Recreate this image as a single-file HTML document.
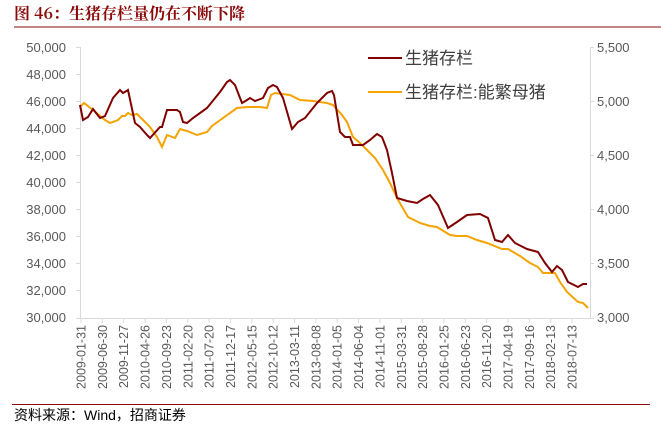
<!DOCTYPE html>
<html><head><meta charset="utf-8"><style>
body{margin:0;width:661px;height:430px;background:#fff;overflow:hidden;font-family:"Liberation Sans","Noto Sans CJK SC",sans-serif}
</style></head><body>
<svg width="661" height="430" xmlns="http://www.w3.org/2000/svg" font-family="Liberation Sans, Noto Sans CJK SC, sans-serif">
<text x="14" y="19" font-size="16" font-weight="bold" fill="#8b0a0a" font-family="Noto Serif CJK SC, Liberation Serif, serif">图 46：生猪存栏量仍在不断下降</text>
<line x1="14" y1="27" x2="661" y2="27" stroke="#8b0a0a" stroke-width="1"/>
<g font-size="13" fill="#595959" text-anchor="end">
<text x="66" y="52">50,000</text><text x="66" y="79">48,000</text><text x="66" y="106">46,000</text><text x="66" y="133">44,000</text><text x="66" y="160">42,000</text><text x="66" y="187">40,000</text><text x="66" y="214">38,000</text><text x="66" y="241">36,000</text><text x="66" y="268">34,000</text><text x="66" y="295">32,000</text><text x="66" y="322">30,000</text>
</g>
<g font-size="13" fill="#595959">
<text x="597" y="52">5,500</text><text x="597" y="106">5,000</text><text x="597" y="160">4,500</text><text x="597" y="214">4,000</text><text x="597" y="268">3,500</text><text x="597" y="322">3,000</text>
</g>
<g stroke="#d9d9d9" stroke-width="1">
<line x1="80.5" y1="47" x2="80.5" y2="318"/><line x1="590.5" y1="47" x2="590.5" y2="318"/>
<line x1="76" y1="318.5" x2="590" y2="318.5"/>
<path d="M76 47.5h4M76 74.5h4M76 101.5h4M76 128.5h4M76 155.5h4M76 182.5h4M76 209.5h4M76 236.5h4M76 263.5h4M76 290.5h4M590 47.5h4M590 101.5h4M590 155.5h4M590 209.5h4M590 263.5h4M590 318.5h4"/>
</g>
<g id="ticks" stroke="#d9d9d9"></g>
<g id="xl" font-size="12.5" fill="#595959"></g>
<polyline fill="none" stroke="#f5a300" stroke-width="2" points="81,106 84,103 93,110 105,120 110,123 118,120 122,116 125,116 128,113 132,115 137,114 143,120 150,127 157,137 162,147 167,135 175,138 180,129 187,131 197,135 207,132 212,126 223,118 237,108 247,107 260,107 267,108 271,95 275,93 290,95 300,100 313,101 327,103 333,105 342,115 347,122 353,137 360,143 370,153 375,158 383,170 390,183 397,198 408,217 420,223 430,226 437,227 450,235 457,236 467,236 477,240 487,243 502,249 508,249 520,256 530,263 538,267 543,273 555,273 560,282 567,292 578,302 583,303 588,308"/>
<polyline fill="none" stroke="#800000" stroke-width="2" points="80,105 83,120 88,117 93,109 100,118 105,116 113,98 120,90 123,93 128,90 135,123 140,127 147,135 150,138 160,127 162,127 167,110 177,110 180,112 183,122 187,123 193,118 207,108 220,92 227,82 230,80 235,85 242,103 247,100 250,98 255,101 263,98 268,88 273,85 277,87 283,98 292,129 298,122 305,118 317,103 327,93 332,91 334,95 340,132 345,137 350,137 353,145 363,145 370,140 377,134 382,137 387,150 392,173 397,198 407,201 417,203 423,199 430,195 438,205 448,228 457,222 467,215 480,214 488,218 495,240 502,242 508,235 515,243 527,249 538,252 545,263 552,272 557,266 562,270 568,282 578,287 583,284 587,284"/>
<line x1="368" y1="58" x2="402" y2="58" stroke="#800000" stroke-width="2"/>
<text x="405" y="64" font-size="17" fill="#404040">生猪存栏</text>
<line x1="368" y1="92" x2="402" y2="92" stroke="#f5a300" stroke-width="2"/>
<text x="405" y="98" font-size="17" fill="#404040">生猪存栏:能繁母猪</text>
<line x1="12" y1="404.5" x2="650" y2="404.5" stroke="#8b0a0a" stroke-width="1"/>
<text x="14" y="420" font-size="14" fill="#000">资料来源：Wind，招商证券</text>
</svg>
<script>
var L=["2009-01-31","2009-06-30","2009-11-27","2010-04-26","2010-09-23","2011-02-20","2011-07-20","2011-12-17","2012-05-15","2012-10-12","2013-03-11","2013-08-08","2014-01-05","2014-06-04","2014-11-01","2015-03-31","2015-08-28","2016-01-25","2016-06-23","2016-11-20","2017-04-19","2017-09-16","2018-02-13","2018-07-13"];
var t=document.getElementById("ticks"),x=document.getElementById("xl"),ns="http://www.w3.org/2000/svg";
L.forEach(function(s,i){var px=81+i*21.35;
var l=document.createElementNS(ns,"line");l.setAttribute("x1",px);l.setAttribute("x2",px);l.setAttribute("y1",318);l.setAttribute("y2",323);t.appendChild(l);
var e=document.createElementNS(ns,"text");e.setAttribute("transform","translate("+(px+4.5)+",325) rotate(-90)");e.setAttribute("text-anchor","end");e.textContent=s;x.appendChild(e);});
</script>
</body></html>
